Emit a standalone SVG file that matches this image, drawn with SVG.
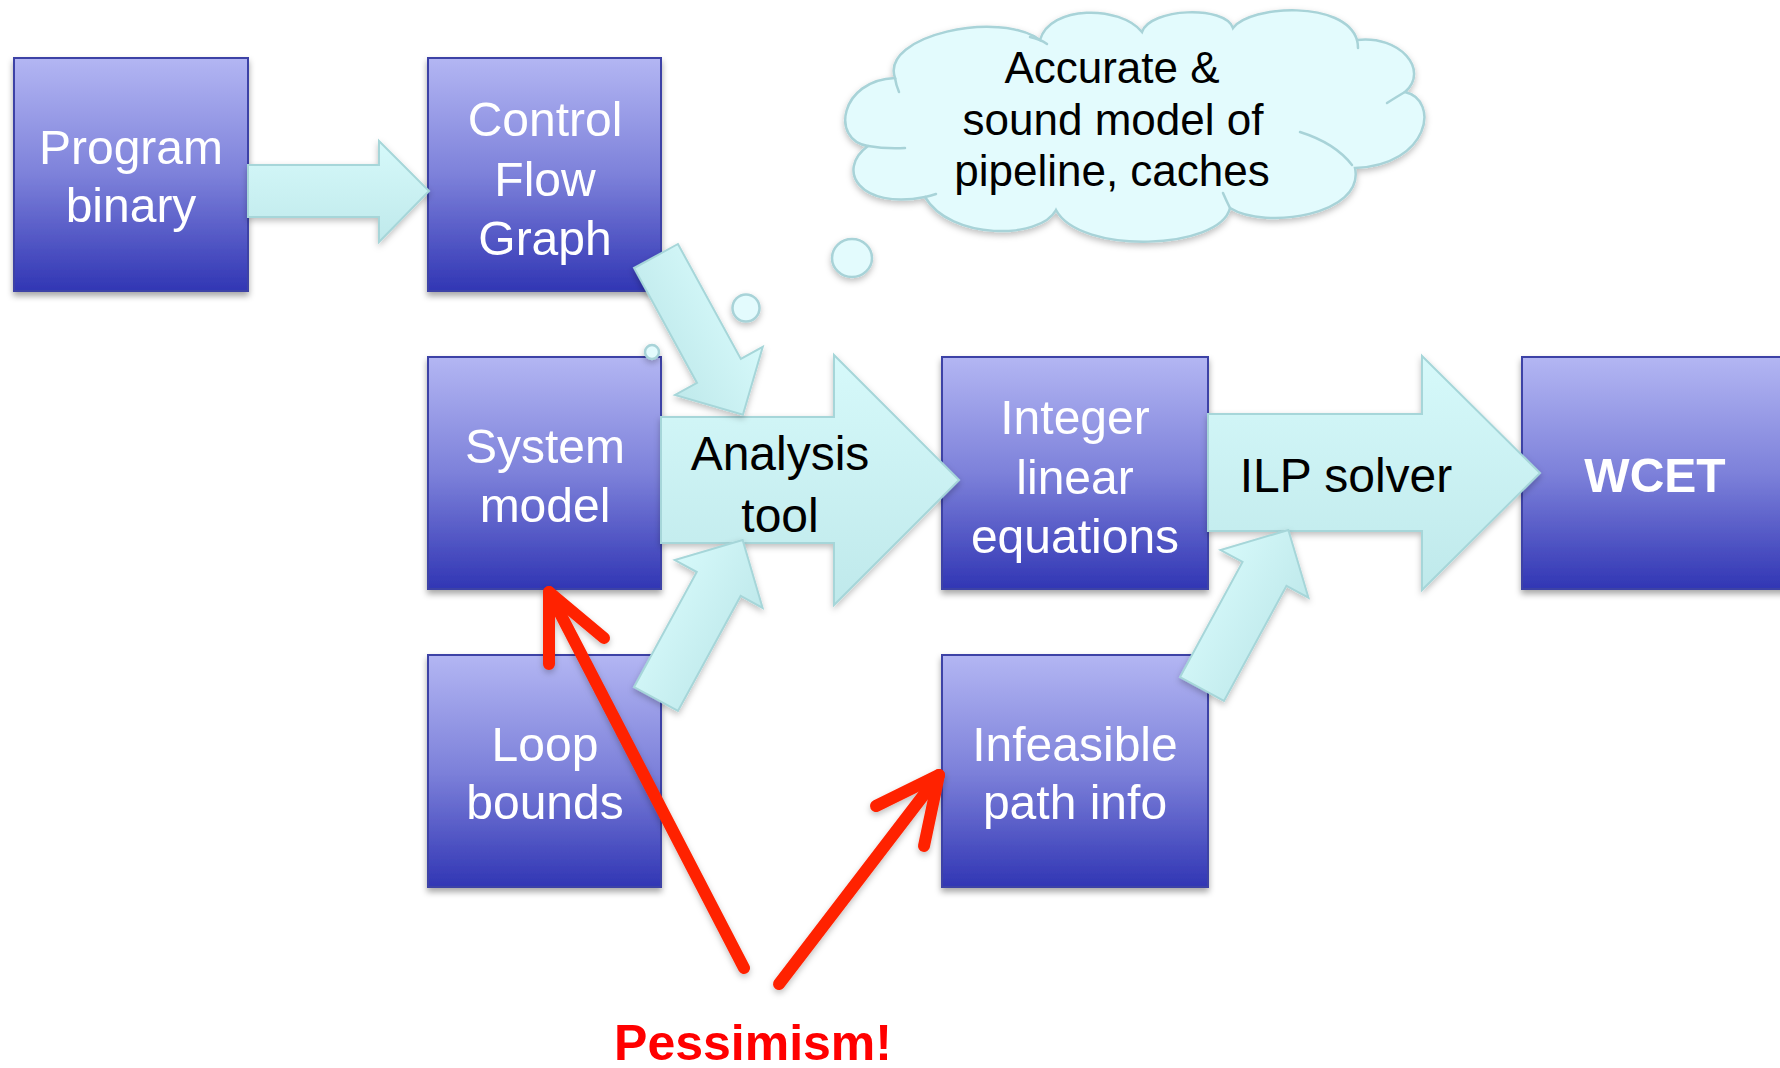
<svg xmlns="http://www.w3.org/2000/svg" width="1780" height="1068" viewBox="0 0 1780 1068">
  <defs>
    <linearGradient id="boxFill" x1="0" y1="0" x2="0" y2="1">
      <stop offset="0" stop-color="#b3b6f3"/>
      <stop offset="0.5" stop-color="#7d81da"/>
      <stop offset="1" stop-color="#3136b4"/>
    </linearGradient>
    <linearGradient id="arrowFill" x1="0" y1="0" x2="0" y2="1">
      <stop offset="0" stop-color="#d6f9fa"/>
      <stop offset="1" stop-color="#bfe9eb"/>
    </linearGradient>
    <filter id="shadow" x="-15%" y="-15%" width="130%" height="135%">
      <feDropShadow dx="0" dy="4" stdDeviation="3" flood-color="#000" flood-opacity="0.35"/>
    </filter>
    <filter id="softShadow" x="-15%" y="-15%" width="130%" height="135%">
      <feDropShadow dx="0" dy="3" stdDeviation="3" flood-color="#000" flood-opacity="0.25"/>
    </filter>
    <!-- block arrow drawn along +x, tail centred at the origin -->
    <path id="diagArrow" d="M0,-25 H131 V-50 L181,0 L131,50 V25 H0 Z"/>
  </defs>
  <style>
    .box { fill: url(#boxFill); stroke: #3d42a6; stroke-width: 2; }
    .arrow { fill: url(#arrowFill); stroke: #a6d6d9; stroke-width: 2; }
    .lbl { font-family: "Liberation Sans", Arial, Helvetica, sans-serif; font-size: 48px; fill: #ffffff; text-anchor: middle; }
    .dark { fill: #000000; }
    .bold { font-weight: bold; }
    .cloudTxt { font-size: 44px; fill: #000000; }
    .cloud { fill: #e3fbfd; stroke: #a8d3d8; stroke-width: 2.5; }
    .cloudLine { fill: none; stroke: #a8d3d8; stroke-width: 2.5; stroke-linecap: round; }
    .red { fill: none; stroke: #ff2200; stroke-width: 12; stroke-linecap: round; stroke-linejoin: round; }
    .redTxt { fill: #ff0000; font-weight: bold; font-size: 50px; }
  </style>

  <rect width="1780" height="1068" fill="#ffffff"/>

  <!-- process boxes -->
  <g id="program-binary" filter="url(#shadow)">
    <rect class="box" x="14" y="58" width="234" height="233"/>
    <text class="lbl" x="131" y="164">Program</text>
    <text class="lbl" x="131" y="222">binary</text>
  </g>
  <g id="control-flow-graph" filter="url(#shadow)">
    <rect class="box" x="428" y="58" width="233" height="233"/>
    <text class="lbl" x="545" y="136">Control</text>
    <text class="lbl" x="545" y="196">Flow</text>
    <text class="lbl" x="545" y="255">Graph</text>
  </g>
  <g id="system-model" filter="url(#shadow)">
    <rect class="box" x="428" y="357" width="233" height="232"/>
    <text class="lbl" x="545" y="463">System</text>
    <text class="lbl" x="545" y="522">model</text>
  </g>
  <g id="loop-bounds" filter="url(#shadow)">
    <rect class="box" x="428" y="655" width="233" height="232"/>
    <text class="lbl" x="545" y="761">Loop</text>
    <text class="lbl" x="545" y="819">bounds</text>
  </g>
  <g id="integer-linear-equations" filter="url(#shadow)">
    <rect class="box" x="942" y="357" width="266" height="232"/>
    <text class="lbl" x="1075" y="434">Integer</text>
    <text class="lbl" x="1075" y="494">linear</text>
    <text class="lbl" x="1075" y="553">equations</text>
  </g>
  <g id="infeasible-path-info" filter="url(#shadow)">
    <rect class="box" x="942" y="655" width="266" height="232"/>
    <text class="lbl" x="1075" y="761">Infeasible</text>
    <text class="lbl" x="1075" y="819">path info</text>
  </g>
  <g id="wcet" filter="url(#shadow)">
    <rect class="box" x="1522" y="357" width="280" height="232"/>
    <text class="lbl bold" x="1655" y="492">WCET</text>
  </g>

  <!-- thought cloud -->
  <g id="thought-cloud">
    <g filter="url(#softShadow)">
      <path class="cloud" d="M895,78 C880,35 1000,10 1040,40 C1050,5 1120,5 1142,32 C1150,8 1225,5 1233,28 C1250,5 1345,0 1357,40 C1400,35 1430,70 1405,92 C1440,100 1430,165 1355,168 C1365,215 1265,230 1230,208 C1220,250 1080,255 1056,210 C1040,240 950,240 925,197 C860,210 835,170 868,146 C830,140 840,80 895,78 Z"/>
      <ellipse class="cloud" cx="852" cy="258" rx="20" ry="19"/>
      <ellipse class="cloud" cx="746" cy="308" rx="13.5" ry="13.5"/>
      <ellipse class="cloud" cx="652" cy="352" rx="7" ry="7"/>
    </g>
    <path class="cloudLine" d="M1030,37 Q1040,39 1047,44"/>
    <path class="cloudLine" d="M895,78 Q896,85 899,92"/>
    <path class="cloudLine" d="M868,146 Q885,149 905,148"/>
    <path class="cloudLine" d="M925,197 Q930,196 936,194"/>
    <path class="cloudLine" d="M1387,103 Q1398,96 1405,92"/>
    <path class="cloudLine" d="M1300,132 Q1335,143 1352,165"/>
    <path class="cloudLine" d="M1230,208 Q1226,200 1223,193"/>
    <path class="cloudLine" d="M1357,40 Q1358,44 1358,48"/>
    <text class="lbl cloudTxt" x="1112" y="83">Accurate &amp;</text>
    <text class="lbl cloudTxt" x="1113" y="135">sound model of</text>
    <text class="lbl cloudTxt" x="1112" y="186">pipeline, caches</text>
  </g>

  <!-- connectors -->
  <g id="connectors">
    <g filter="url(#softShadow)">
      <path class="arrow" d="M248,165 H379 V141 L429,191 L379,242 V217 H248 Z"/>
      <path class="arrow" d="M661,417 H834 V355 L959,480 L834,605 V543 H661 Z"/>
      <path class="arrow" d="M1208,414 H1422 V356 L1540,473 L1422,590 V531 H1208 Z"/>
    </g>
    <g filter="url(#softShadow)">
      <use href="#diagArrow" class="arrow" transform="translate(656,256) rotate(61.3)"/>
    </g>
    <g filter="url(#softShadow)">
      <use href="#diagArrow" class="arrow" transform="translate(656,699) rotate(-61.4)"/>
    </g>
    <g filter="url(#softShadow)">
      <use href="#diagArrow" class="arrow" transform="translate(1202,689) rotate(-61.5)"/>
    </g>
    <text class="lbl dark" x="780" y="470">Analysis</text>
    <text class="lbl dark" x="780" y="532">tool</text>
    <text class="lbl dark" x="1346" y="492">ILP solver</text>

    <!-- pessimism pointers -->
    <g filter="url(#softShadow)">
      <path class="red" d="M744,968 L549,592"/>
      <path class="red" d="M549,664 L549,592 L604,638"/>
      <path class="red" d="M779,984 L939,775"/>
      <path class="red" d="M876,806 L939,775 L924,846"/>
    </g>
  </g>

  <text id="pessimism" class="lbl redTxt" x="753" y="1060">Pessimism!</text>
</svg>
